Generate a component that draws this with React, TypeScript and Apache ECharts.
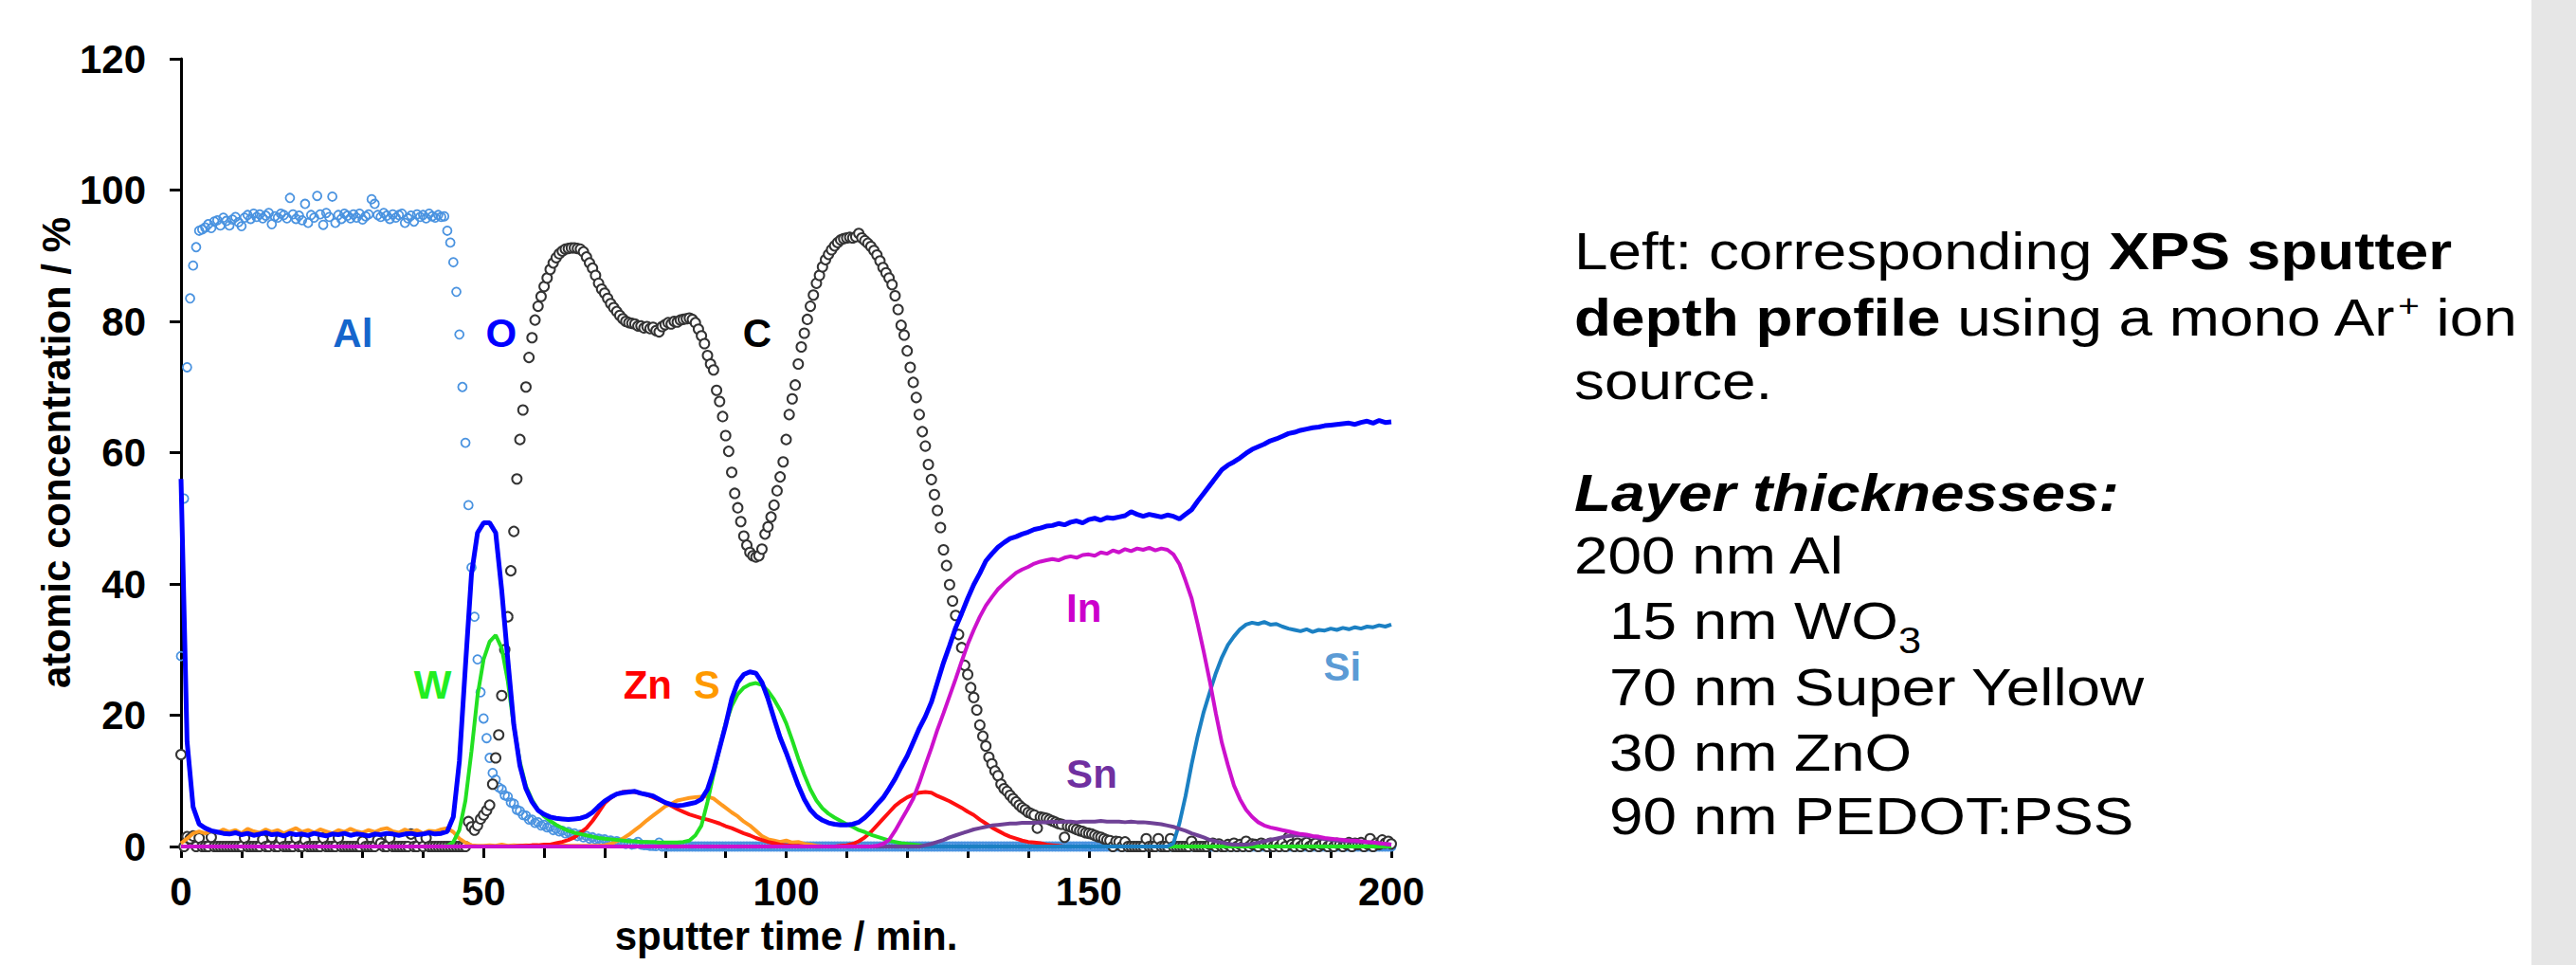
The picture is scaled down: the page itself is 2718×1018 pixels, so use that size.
import React, { useEffect, useRef } from 'react';
import * as echarts from 'echarts';

// ---------- data ----------
// line series sampled every 1 min (t = 0 … 200)
const LINE_STEP = 1;
// circle series sampled every 0.5 min (t = 0 … 200)
const DOT_STEP = 0.5;

const O_VALUES = [
  56, 16, 6, 3.4, 2.8, 2.4, 2.2, 2.0, 1.9, 2.1,
  1.8, 2.0, 1.7, 1.9, 2.1, 1.8, 1.9, 1.6, 2.0, 1.8,
  1.9, 1.7, 2.0, 1.8, 1.6, 1.9, 1.8, 2.0, 1.7, 1.9,
  1.8, 1.6, 1.9, 1.8, 2.0, 1.9, 1.7, 1.9, 2.0, 1.8,
  1.9, 2.1, 1.9, 2.0, 2.3, 4.5, 13, 27.5, 41.5, 47.8,
  49.3, 49.3, 47.8, 39, 28.5, 18.5, 12.3, 8.8, 6.8, 5.5,
  4.9, 4.5, 4.3, 4.2, 4.1, 4.2, 4.3, 4.6, 5.2, 6.1,
  6.9, 7.5, 8.0, 8.2, 8.3, 8.4, 8.1, 7.9, 7.7, 7.2,
  6.7, 6.4, 6.2, 6.3, 6.5, 6.7, 7.2, 8.7, 11.5, 15,
  18.5, 22.5, 25, 26.2, 26.6, 26.4, 25, 22.5, 19.5, 16.6,
  14.3, 11.8, 9.3, 7.2, 5.6, 4.6, 4.0, 3.6, 3.4, 3.3,
  3.3, 3.4, 3.7, 4.4, 5.3, 6.4, 7.4, 8.8, 10.3, 12.1,
  13.8, 15.9, 18, 19.8, 22, 25, 28, 30.6, 33.3, 35.5,
  37.8, 39.9, 41.6, 43.5, 44.6, 45.6, 46.3, 46.9, 47.2, 47.6,
  47.9, 48.3, 48.5, 48.8, 48.9, 49.2, 49, 49.4, 49.6, 49.3,
  49.8, 50, 49.7, 50.1, 50, 50.2, 50.4, 51, 50.6, 50.3,
  50.6, 50.4, 50.2, 50.5, 50.3, 49.9, 50.6, 51.3, 52.6, 53.8,
  55.0, 56.2, 57.4, 58.1, 58.6, 59.2, 59.9, 60.5, 60.9, 61.3,
  61.8, 62.1, 62.5, 62.9, 63.1, 63.4, 63.6, 63.8, 63.9, 64.1,
  64.2, 64.3, 64.4, 64.5, 64.3, 64.6, 64.8, 64.5, 64.9, 64.6,
  64.7,
];

const W_VALUES = [
  0, 0, 0, 0, 0, 0, 0, 0, 0, 0,
  0, 0, 0, 0, 0, 0, 0, 0, 0, 0,
  0, 0, 0, 0, 0, 0, 0, 0, 0, 0,
  0, 0, 0, 0, 0, 0, 0, 0, 0, 0,
  0, 0, 0, 0, 0.1, 0.7, 2.5, 7, 14.5, 23,
  28.5, 31.2, 32.2, 30.2, 25.2, 18.3, 12.9, 9.2, 7.1, 5.6,
  4.6, 3.9, 3.3, 2.8, 2.4, 2.1, 1.9, 1.7, 1.5, 1.3,
  1.2, 1.1, 1.0, 0.9, 0.8, 0.8, 0.7, 0.7, 0.7, 0.6,
  0.6, 0.6, 0.6, 0.7, 0.9, 1.7, 3.2, 6.8, 11.0, 15.0,
  18.7, 21.4, 23.2, 24.2, 24.7, 24.9, 24.6, 23.7, 22.4, 20.8,
  18.8, 16.2, 13.4, 10.9, 8.7, 7.0, 5.8, 5.0, 4.4, 3.9,
  3.4, 3.0, 2.5, 2.2, 1.8, 1.5, 1.2, 0.9, 0.7, 0.5,
  0.4, 0.3, 0.2, 0.1, 0.1, 0, 0, 0, 0, 0,
  0, 0, 0, 0, 0, 0, 0, 0, 0, 0,
  0, 0, 0, 0, 0, 0, 0, 0, 0, 0,
  0, 0, 0, 0, 0, 0, 0, 0, 0, 0,
  0, 0, 0, 0, 0, 0, 0, 0, 0, 0,
  0, 0, 0, 0, 0, 0, 0, 0, 0, 0,
  0, 0, 0, 0, 0, 0, 0, 0, 0, 0,
  0, 0, 0, 0, 0, 0, 0, 0, 0, 0,
  0,
];

const ZN_VALUES = [
  0, 0, 0, 0, 0, 0, 0, 0, 0, 0,
  0, 0, 0, 0, 0, 0, 0, 0, 0, 0,
  0, 0, 0, 0, 0, 0, 0, 0, 0, 0,
  0, 0, 0, 0, 0, 0, 0, 0, 0, 0,
  0, 0, 0, 0, 0, 0, 0, 0, 0, 0,
  0, 0, 0, 0, 0, 0, 0.1, 0.1, 0.2, 0.2,
  0.3, 0.3, 0.5, 0.7, 1.0, 1.4, 2.1, 2.8, 3.9, 5.2,
  6.6, 7.4, 8.0, 8.3, 8.4, 8.3, 8.1, 7.9, 7.5, 7.1,
  6.7, 6.2, 5.7, 5.3, 4.9, 4.6, 4.3, 4.1, 3.8, 3.5,
  3.1, 2.8, 2.4, 2.0, 1.7, 1.3, 1.0, 0.7, 0.5, 0.3,
  0.2, 0.1, 0.1, 0, 0, 0, 0, 0, 0, 0.1,
  0.2, 0.4, 0.8, 1.4, 2.2, 3.2, 4.2, 5.2, 6.2, 6.9,
  7.5, 7.9, 8.2, 8.3, 8.2, 7.7, 7.3, 6.9, 6.4, 5.9,
  5.3, 4.8, 4.1, 3.5, 2.9, 2.4, 1.9, 1.5, 1.2, 0.9,
  0.7, 0.6, 0.5, 0.3, 0.2, 0.1, 0, 0, 0, 0,
  0, 0, 0, 0, 0, 0, 0, 0, 0, 0,
  0, 0, 0, 0, 0, 0, 0, 0, 0, 0,
  0, 0, 0, 0, 0, 0, 0, 0, 0, 0,
  0, 0, 0, 0, 0, 0, 0, 0, 0, 0,
  0, 0, 0, 0, 0, 0, 0, 0, 0, 0,
  0,
];

const S_VALUES = [
  0.5, 1.2, 2.0, 2.3, 2.0, 2.4, 2.1, 2.6, 2.2, 2.5,
  2.0, 2.7, 2.3, 2.1, 2.6, 2.2, 2.5, 2.0, 2.4, 2.8,
  2.2, 2.5, 2.1, 2.6, 2.3, 2.0, 2.5, 2.2, 2.7, 2.3,
  2.1, 2.5, 2.2, 2.6, 2.8, 2.3, 2.1, 2.6, 2.2, 2.5,
  2.0, 2.4, 2.3, 2.6, 2.8, 2.2, 1.2, 0.6, 0.2, 0.1,
  0.1, 0.2, 0.1, 0.3, 0.1, 0.2, 0.1, 0.2, 0.1, 0.1,
  0.2, 0.1, 0.1, 0.2, 0.1, 0.1, 0.1, 0.1, 0.1, 0.1,
  0.2, 0.4, 0.8, 1.2, 1.8, 2.5, 3.2, 4.0, 4.7, 5.4,
  6.1, 6.5, 7.0, 7.2, 7.4, 7.5, 7.6, 7.6, 7.3, 6.6,
  5.9, 5.2, 4.6, 3.8, 3.2, 2.4, 1.6, 1.1, 0.9, 0.7,
  0.9, 0.6, 0.7, 0.4, 0.3, 0.1, 0, 0, 0, 0,
  0, 0, 0, 0, 0, 0, 0, 0, 0, 0,
  0, 0, 0, 0, 0, 0, 0, 0, 0, 0,
  0, 0, 0, 0, 0, 0, 0, 0, 0, 0,
  0, 0, 0, 0, 0, 0, 0, 0, 0, 0,
  0, 0, 0, 0, 0, 0, 0, 0, 0, 0,
  0, 0, 0, 0, 0, 0, 0, 0, 0, 0,
  0, 0, 0, 0, 0, 0, 0, 0, 0, 0,
  0, 0, 0, 0, 0, 0, 0, 0, 0, 0,
  0, 0, 0, 0, 0, 0, 0, 0, 0, 0,
  0,
];

const IN_VALUES = [
  0, 0, 0, 0, 0, 0, 0, 0, 0, 0,
  0, 0, 0, 0, 0, 0, 0, 0, 0, 0,
  0, 0, 0, 0, 0, 0, 0, 0, 0, 0,
  0, 0, 0, 0, 0, 0, 0, 0, 0, 0,
  0, 0, 0, 0, 0, 0, 0, 0, 0, 0,
  0, 0, 0, 0, 0, 0, 0, 0, 0, 0,
  0, 0, 0, 0, 0, 0, 0, 0, 0, 0,
  0, 0, 0, 0, 0, 0, 0, 0, 0, 0,
  0, 0, 0, 0, 0, 0, 0, 0, 0, 0,
  0, 0, 0, 0, 0, 0, 0, 0, 0, 0,
  0, 0, 0, 0, 0, 0, 0, 0, 0, 0,
  0, 0, 0, 0, 0, 0.1, 0.4, 1.0, 2.4, 4.0,
  5.6, 7.3, 9.7, 12.4, 15.0, 17.8, 20.3, 22.9, 25.5, 28.2,
  30.8, 33.0, 35.0, 36.7, 38.0, 39.2, 40.1, 40.9, 41.7, 42.2,
  42.6, 43.1, 43.4, 43.6, 43.8, 43.6, 44.0, 44.2, 44.0, 44.4,
  44.5, 44.3, 44.8, 44.6, 45.1, 44.8, 45.3, 45.0, 45.4, 45.2,
  45.5, 45.1, 45.4, 45.2, 44.5, 43.0, 40.5, 37.8, 33.9, 29.7,
  25.2, 20.3, 15.8, 12.4, 9.3, 7.2, 5.6, 4.5, 3.7, 3.2,
  2.9, 2.7, 2.5, 2.3, 2.1, 1.9, 1.8, 1.6, 1.5, 1.3,
  1.2, 1.1, 1.0, 0.9, 0.9, 0.8, 0.7, 0.6, 0.5, 0.4,
  0.3,
];

const SN_VALUES = [
  0, 0, 0, 0, 0, 0, 0, 0, 0, 0,
  0, 0, 0, 0, 0, 0, 0, 0, 0, 0,
  0, 0, 0, 0, 0, 0, 0, 0, 0, 0,
  0, 0, 0, 0, 0, 0, 0, 0, 0, 0,
  0, 0, 0, 0, 0, 0, 0, 0, 0, 0,
  0, 0, 0, 0, 0, 0, 0, 0, 0, 0,
  0, 0, 0, 0, 0, 0, 0, 0, 0, 0,
  0, 0, 0, 0, 0, 0, 0, 0, 0, 0,
  0, 0, 0, 0, 0, 0, 0, 0, 0, 0,
  0, 0, 0, 0, 0, 0, 0, 0, 0, 0,
  0, 0, 0, 0, 0, 0, 0, 0, 0, 0,
  0, 0, 0, 0, 0, 0, 0, 0, 0, 0,
  0, 0, 0, 0.2, 0.4, 0.7, 1.0, 1.4, 1.7, 2.0,
  2.3, 2.6, 2.8, 3.0, 3.2, 3.3, 3.4, 3.5, 3.5, 3.6,
  3.6, 3.6, 3.7, 3.7, 3.8, 3.7, 3.8, 3.8, 3.7, 3.8,
  3.8, 3.8, 3.9, 3.8, 3.8, 3.8, 3.7, 3.8, 3.7, 3.7,
  3.6, 3.5, 3.4, 3.2, 3.0, 2.7, 2.4, 2.0, 1.7, 1.4,
  1.0, 0.8, 0.6, 0.4, 0.3, 0.3, 0.3, 0.4, 0.6, 0.8,
  1.0, 1.2, 1.4, 1.6, 1.7, 1.7, 1.6, 1.5, 1.3, 1.1,
  1.0, 0.9, 0.8, 0.8, 0.7, 0.7, 0.6, 0.6, 0.5, 0.4,
  0.3,
];

const SI_VALUES = [
  0, 0, 0, 0, 0, 0, 0, 0, 0, 0,
  0, 0, 0, 0, 0, 0, 0, 0, 0, 0,
  0, 0, 0, 0, 0, 0, 0, 0, 0, 0,
  0, 0, 0, 0, 0, 0, 0, 0, 0, 0,
  0, 0, 0, 0, 0, 0, 0, 0, 0, 0,
  0, 0, 0, 0, 0, 0, 0, 0, 0, 0,
  0, 0, 0, 0, 0, 0, 0, 0, 0, 0,
  0, 0, 0, 0, 0, 0, 0, 0, 0, 0,
  0, 0, 0, 0, 0, 0, 0, 0, 0, 0,
  0, 0, 0, 0, 0, 0, 0, 0, 0, 0,
  0, 0, 0, 0, 0, 0, 0, 0, 0, 0,
  0, 0, 0, 0, 0, 0, 0, 0, 0, 0,
  0, 0, 0, 0, 0, 0, 0, 0, 0, 0,
  0, 0, 0, 0, 0, 0, 0, 0, 0, 0,
  0, 0, 0, 0, 0, 0, 0, 0, 0, 0,
  0, 0, 0, 0, 0, 0, 0, 0, 0, 0,
  0, 0, 0, 0, 0.5, 3.6, 7.7, 12.5, 16.8, 20.5,
  23.5, 26.4, 28.8, 30.7, 32.0, 33.1, 33.8, 34.1, 33.9, 34.2,
  33.8, 33.9, 33.5, 33.2, 33.0, 32.8, 33.1, 32.7, 33.0, 32.9,
  33.2, 33.0, 33.3, 33.1, 33.4, 33.2, 33.5, 33.4, 33.7, 33.5,
  33.8,
];

const AL_VALUES = [
  29, 53, 73, 83.5, 88.5, 91.3, 93.8, 94, 94.3, 94.8, 94.2, 95.2, 95.4, 94.6, 95.8, 95.3, 94.6, 95.5, 95.9, 95.1,
  94.5, 95.8, 96.2, 95.6, 96.4, 95.9, 96.3, 95.7, 96.1, 96.5, 94.8, 96, 95.8, 96.4, 96.2, 95.7, 98.8, 96.3, 95.6, 96.1,
  95.4, 97.9, 95, 96.2, 95.8, 99.1, 96.3, 94.7, 96.5, 95.9, 99, 95, 96.2, 95.6, 96.4, 96.1, 95.7, 96.3, 95.8, 96.4,
  95.5, 96, 96.3, 98.6, 97.9, 96.2, 95.9, 96.5, 96.1, 95.6, 96.3, 95.8, 96.2, 96.4, 95, 95.7, 96.1, 95.2, 96.3, 95.9,
  96.2, 95.7, 96.4, 96, 95.8, 96.2, 95.9, 96, 93.8, 92, 89, 84.5, 78, 70, 61.5, 52, 42.5, 35, 28.5, 23.5,
  19.5, 16.5, 13.5, 11.2, 10.2, 9.0, 8.7, 7.8, 7.6, 6.7, 6.5, 5.6, 5.4, 4.8, 4.7, 4.1, 4.1, 3.6, 3.7, 3.2,
  3.3, 2.9, 3.0, 2.5, 2.7, 2.3, 2.4, 2.0, 2.2, 1.8, 2.0, 1.6, 1.8, 1.4, 1.6, 1.2, 1.4, 1.1, 1.2, 1.0,
  1.1, 0.8, 0.9, 0.7, 0.8, 0.6, 0.6, 0.4, 0.5, 0.3, 0.4, 0.7, 0.3, 0.2, 0.2, 0.1, 0.1, 0.05, 0.6, 0,
  0, 0, 0, 0, 0, 0, 0, 0, 0, 0, 0, 0, 0, 0, 0, 0, 0, 0, 0, 0,
  0, 0, 0, 0, 0, 0, 0, 0, 0, 0, 0, 0, 0, 0, 0, 0, 0, 0, 0, 0,
  0, 0, 0, 0, 0, 0, 0, 0, 0, 0, 0, 0, 0, 0, 0, 0, 0, 0, 0, 0,
  0, 0, 0, 0, 0, 0, 0, 0, 0, 0, 0, 0, 0, 0, 0, 0, 0, 0, 0, 0,
  0, 0, 0, 0, 0, 0, 0, 0, 0, 0, 0, 0, 0, 0, 0, 0, 0, 0, 0, 0,
  0, 0, 0, 0, 0, 0, 0, 0, 0, 0, 0, 0, 0, 0, 0, 0, 0, 0, 0, 0,
  0, 0, 0, 0, 0, 0, 0, 0, 0, 0, 0, 0, 0, 0, 0, 0, 0, 0, 0, 0,
  0, 0, 0, 0, 0, 0, 0, 0, 0, 0, 0, 0, 0, 0, 0, 0, 0, 0, 0, 0,
  0, 0, 0, 0, 0, 0, 0, 0, 0, 0, 0, 0, 0, 0, 0, 0, 0, 0, 0, 0,
  0, 0, 0, 0, 0, 0, 0, 0, 0, 0, 0, 0, 0, 0, 0, 0, 0, 0, 0, 0,
  0, 0, 0, 0, 0, 0, 0, 0, 0, 0, 0, 0, 0, 0, 0, 0, 0, 0, 0, 0,
  0, 0, 0, 0, 0, 0, 0, 0, 0, 0, 0, 0, 0, 0, 0, 0, 0, 0, 0, 0,
  0,
];

const C_VALUES = [
  14, 0, 1.5, 1.2, 1.6, 0, 1.3, 0, 0, 0, 1.4, 0, 0, 0, 0, 0, 0, 0, 0, 0,
  0, 1.3, 0, 0, 0, 0, 0, 1.1, 0, 0, 1.4, 0, 0, 1.2, 0, 0, 0, 0, 1.3, 0,
  0, 1.0, 0, 0, 0, 0, 0, 1.3, 0, 0, 0, 0, 1.3, 0, 0, 0, 0, 0, 0, 0,
  0.8, 0, 0, 0, 0, 1.0, 0.5, 0, 0, 1.3, 0, 0, 0, 0, 0, 0, 1.9, 0, 0, 1.3,
  0, 1.3, 0, 0, 0, 0, 0, 0, 0, 0, 0, 0, 0, 0, 0, 3.8, 3.0, 2.5, 3.2, 4.2,
  4.8, 5.5, 6.3, 9.5, 13.5, 17, 23, 30, 35, 42, 48, 56, 62, 66.5, 70, 74.5, 77.5, 80.2, 82.3, 83.8,
  85.3, 86.6, 87.9, 88.9, 89.7, 90.3, 90.7, 91, 91.1, 91.2, 91.2, 91.1, 91, 90.6, 89.8, 88.9, 88.1, 87, 85.8, 84.9,
  84.3, 83.5, 82.7, 82.1, 81.5, 80.9, 80.4, 80, 79.8, 79.7, 79.6, 79.3, 79.3, 79, 79.2, 78.9, 79.1, 78.6, 78.4, 79.2,
  79.5, 79.8, 79.6, 80, 79.9, 80.2, 80.3, 80.4, 80.5, 80.3, 79.8, 78.8, 77.8, 76.6, 74.8, 73.5, 72.6, 69.5, 67.8, 65.5,
  62.6, 60.2, 57, 53.8, 51.6, 49.5, 47.3, 45.9, 44.8, 44.3, 44.1, 44.3, 45.3, 47.6, 48.7, 50.2, 52, 54.2, 56.3, 58.6,
  62, 65.8, 68.2, 70.3, 73.5, 76.1, 78.2, 80.3, 82.3, 84, 85.8, 87, 88.3, 89.4, 90.2, 90.9, 91.5, 92, 92.4, 92.6,
  92.7, 92.8, 92.7, 92.9, 93.4, 92.7, 92.3, 91.9, 91.4, 90.8, 90.1, 89.2, 88.2, 87.4, 86.6, 85.6, 83.9, 81.8, 79.4, 77.9,
  75.5, 73, 70.7, 68.4, 65.8, 63.2, 61, 58.2, 55.9, 53.6, 51.2, 48.6, 45.2, 42.8, 39.9, 37.4, 35.2, 32.3, 30.3, 27.6,
  26.2, 24.2, 22.7, 20.8, 18.5, 16.8, 15.3, 13.6, 12.6, 11.5, 10.8, 9.5, 8.8, 8.4, 7.8, 7.3, 6.8, 6.3, 5.9, 5.6,
  5.2, 5.0, 4.8, 2.8, 4.5, 4.4, 4.3, 4.1, 3.9, 3.7, 3.5, 3.4, 1.4, 3.1, 3.0, 2.8, 2.6, 2.4, 2.3, 2.1,
  2.0, 1.9, 1.7, 1.5, 1.4, 1.2, 1.0, 0.9, 0, 0.8, 0.7, 0, 0.7, 0, 0, 0, 0, 0, 0, 1.2,
  0, 0, 0, 1.2, 0, 0, 0, 1.2, 0, 0, 0, 0, 0, 0, 0.8, 0, 0, 0, 0, 0,
  0.3, 0.5, 0, 0.4, 0, 0, 0.3, 0, 0.5, 0, 0.3, 0, 0.8, 0, 0.4, 0.3, 0, 0.5, 0.3, 0,
  0.5, 0, 0.4, 0, 0.6, 0, 1.4, 0.3, 0, 0.5, 0, 0.4, 0.6, 0, 0.3, 0.5, 0, 0.3, 0.6, 0,
  0.4, 0, 0.5, 0.3, 0, 0.4, 0.6, 0, 0.5, 0.3, 0.6, 0, 0.4, 1.2, 0, 0.5, 0.3, 1.0, 0.5, 0.8,
  0.4,
];

// in-plot element labels: name, time (min), concentration (%)
const LABEL_NAMES = ['Al', 'O', 'C', 'W', 'Zn', 'S', 'In', 'Sn', 'Si'];
const LABEL_T = [28.4, 52.9, 95.2, 41.6, 77.1, 86.9, 149.2, 150.5, 191.9];
const LABEL_V = [78.2, 78.2, 78.2, 24.6, 24.6, 24.6, 36.3, 11.1, 27.3];

const X_TICKS_LABELLED = 50;

const NOTE_LINES = [
  '{r|Left: corresponding\u00a0}{b|XPS sputter}',
  '{b|depth profile\u00a0}{r|using a mono Ar}{sup|+}{r|\u00a0ion}',
  '{r|source.}',
  '{bi|Layer thicknesses:}',
  '{r|200 nm Al}',
  '{r|15 nm WO}{sub|3}',
  '{r|70 nm Super Yellow}',
  '{r|30 nm ZnO}',
  '{r|90 nm PEDOT:PSS}',
];

// ---------- styles ----------
const FONT = 'Arial, "Liberation Sans", sans-serif';
const LABEL_COLORS = ['#1565cc', '#0000ff', '#000000', '#22ee22', '#ff0000', '#ff9900', '#cc00cc', '#7030a0', '#5b9bd5'];
const NOTE_Y = [265, 335, 402, 520, 586, 655, 725, 794, 861];
const NOTE_INDENT = [0, 0, 0, 0, 0, 1, 1, 1, 1];

const W = 2718;
const H = 1018;

function pairs(values: number[], step: number) {
  return values.map((v, i) => [i * step, v]);
}

export default function App() {
  const ref = useRef<HTMLDivElement>(null);

  useEffect(() => {
    document.body.style.margin = '0';
    document.body.style.overflow = 'hidden';
    if (!ref.current) return;
    const chart = echarts.init(ref.current, null, { renderer: 'svg', width: W, height: H });

    const lineSeries = (name: string, values: number[], color: string, width: number) => ({
      name,
      type: 'line',
      data: pairs(values, LINE_STEP),
      showSymbol: false,
      symbol: 'none',
      silent: true,
      lineStyle: { color, width, opacity: 1 },
      itemStyle: { color },
    });

    const rich: any = {
      r: { fontSize: 56, fontFamily: FONT, color: '#000', lineHeight: 60 },
      b: { fontSize: 56, fontFamily: FONT, color: '#000', lineHeight: 60, fontWeight: 'bold' },
      bi: { fontSize: 56, fontFamily: FONT, color: '#000', lineHeight: 60, fontWeight: 'bold', fontStyle: 'italic' },
      sup: { fontSize: 34, fontFamily: FONT, color: '#000', lineHeight: 30, verticalAlign: 'top' },
      sub: { fontSize: 38, fontFamily: FONT, color: '#000', lineHeight: 80, verticalAlign: 'bottom' },
    };

    const noteElements = NOTE_LINES.map((txt, i) => ({
      type: 'text',
      x: 1661 + NOTE_INDENT[i] * 37,
      y: NOTE_Y[i],
      scaleX: 1.14,
      scaleY: 1,
      silent: true,
      style: {
        text: txt,
        rich,
        fontSize: 56,
        fontFamily: FONT,
        fill: '#000',
        align: 'left',
        verticalAlign: 'middle',
      },
    }));

    const axisText = { fontSize: 42, fontWeight: 'bold', color: '#000', fontFamily: FONT };

    chart.setOption({
      animation: false,
      backgroundColor: '#ffffff',
      grid: { left: 191, right: W - 1468, top: 62, bottom: H - 893, containLabel: false },
      xAxis: {
        type: 'value',
        min: 0,
        max: 200,
        interval: 10,
        axisLine: { show: true, onZero: false, lineStyle: { color: '#000', width: 3 } },
        axisTick: { show: true, length: 12, lineStyle: { color: '#000', width: 3 } },
        axisLabel: {
          ...axisText,
          margin: 26,
          formatter: (v: number) => (v % X_TICKS_LABELLED === 0 ? String(v) : ''),
        },
        splitLine: { show: false },
        name: 'sputter time / min.',
        nameLocation: 'middle',
        nameGap: 73,
        nameTextStyle: axisText,
      },
      yAxis: {
        type: 'value',
        min: 0,
        max: 120,
        interval: 20,
        axisLine: { show: true, lineStyle: { color: '#000', width: 3 } },
        axisTick: { show: true, length: 12, lineStyle: { color: '#000', width: 3 } },
        axisLabel: { ...axisText, margin: 37 },
        splitLine: { show: false },
        name: 'atomic concentration / %',
        nameLocation: 'middle',
        nameGap: 110,
        nameTextStyle: axisText,
      },
      graphic: [
        { type: 'rect', shape: { x: 2671, y: 0, width: W - 2671, height: H }, style: { fill: '#e6e6e6' }, silent: true },
        ...noteElements,
      ],
      series: [
        lineSeries('S', S_VALUES, '#ff9a20', 4),
        lineSeries('Zn', ZN_VALUES, '#ff1010', 4),
        lineSeries('W', W_VALUES, '#22e022', 4),
        lineSeries('Si', SI_VALUES, '#1b80c3', 4),
        lineSeries('Sn', SN_VALUES, '#6f4196', 4),
        lineSeries('In', IN_VALUES, '#cc11cc', 4),
        lineSeries('O', O_VALUES, '#0000ff', 5),
        {
          name: 'Al',
          type: 'scatter',
          data: pairs(AL_VALUES, DOT_STEP),
          symbol: 'circle',
          symbolSize: 9,
          silent: true,
          itemStyle: { color: 'rgba(255,255,255,0)', borderColor: '#4a93e0', borderWidth: 1.8, opacity: 1 },
        },
        {
          name: 'C',
          type: 'scatter',
          data: pairs(C_VALUES, DOT_STEP),
          symbol: 'circle',
          symbolSize: 10,
          silent: true,
          itemStyle: { color: '#ffffff', borderColor: '#333333', borderWidth: 2, opacity: 1 },
        },
        {
          name: 'labels',
          type: 'scatter',
          silent: true,
          symbol: 'circle',
          symbolSize: 1,
          itemStyle: { color: 'rgba(0,0,0,0)', borderWidth: 0, opacity: 1 },
          data: LABEL_NAMES.map((n, i) => ({
            name: n,
            value: [LABEL_T[i], LABEL_V[i]],
            label: { color: LABEL_COLORS[i] },
          })),
          label: {
            show: true,
            position: 'inside',
            formatter: '{b}',
            fontSize: 42,
            fontWeight: 'bold',
            fontFamily: FONT,
          },
          labelLayout: { hideOverlap: false },
          z: 5,
        },
      ],
    });

    return () => chart.dispose();
  }, []);

  return <div ref={ref} style={{ width: W, height: H, background: '#fff' }} />;
}
